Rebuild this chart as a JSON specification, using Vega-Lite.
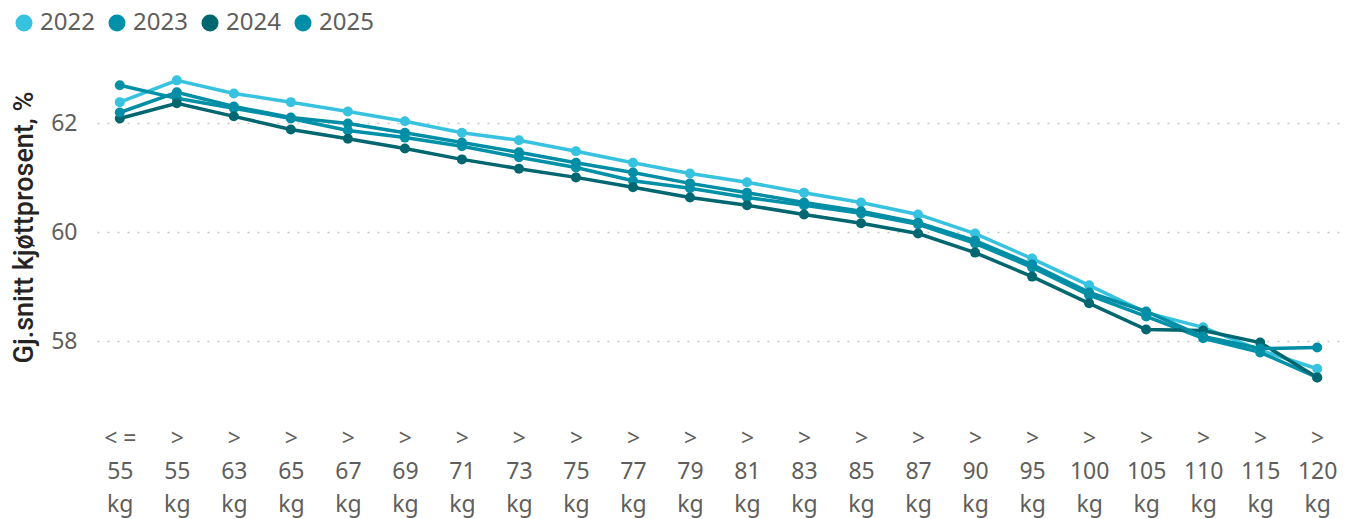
{
  "$schema": "https://vega.github.io/schema/vega-lite/v6.json",
  "autosize": {"type": "none"},
  "width": 1243,
  "height": 338,
  "padding": {"left": 97, "top": 58, "right": 5, "bottom": 123},
  "background": "white",
  "config": {
    "view": {"stroke": null},
    "font": "Noto Sans"
  },
  "data": {
    "values": [
      {"vekt": "<= 55 kg", "aar": "2022", "verdi": 62.39},
      {"vekt": "> 55 kg", "aar": "2022", "verdi": 62.79},
      {"vekt": "> 63 kg", "aar": "2022", "verdi": 62.55},
      {"vekt": "> 65 kg", "aar": "2022", "verdi": 62.39},
      {"vekt": "> 67 kg", "aar": "2022", "verdi": 62.22},
      {"vekt": "> 69 kg", "aar": "2022", "verdi": 62.04},
      {"vekt": "> 71 kg", "aar": "2022", "verdi": 61.83},
      {"vekt": "> 73 kg", "aar": "2022", "verdi": 61.69},
      {"vekt": "> 75 kg", "aar": "2022", "verdi": 61.49},
      {"vekt": "> 77 kg", "aar": "2022", "verdi": 61.28},
      {"vekt": "> 79 kg", "aar": "2022", "verdi": 61.08},
      {"vekt": "> 81 kg", "aar": "2022", "verdi": 60.92},
      {"vekt": "> 83 kg", "aar": "2022", "verdi": 60.73},
      {"vekt": "> 85 kg", "aar": "2022", "verdi": 60.55},
      {"vekt": "> 87 kg", "aar": "2022", "verdi": 60.33},
      {"vekt": "> 90 kg", "aar": "2022", "verdi": 59.98},
      {"vekt": "> 95 kg", "aar": "2022", "verdi": 59.52},
      {"vekt": "> 100 kg", "aar": "2022", "verdi": 59.03},
      {"vekt": "> 105 kg", "aar": "2022", "verdi": 58.53},
      {"vekt": "> 110 kg", "aar": "2022", "verdi": 58.26},
      {"vekt": "> 115 kg", "aar": "2022", "verdi": 57.84},
      {"vekt": "> 120 kg", "aar": "2022", "verdi": 57.5},

      {"vekt": "<= 55 kg", "aar": "2023", "verdi": 62.7},
      {"vekt": "> 55 kg", "aar": "2023", "verdi": 62.46},
      {"vekt": "> 63 kg", "aar": "2023", "verdi": 62.28},
      {"vekt": "> 65 kg", "aar": "2023", "verdi": 62.09},
      {"vekt": "> 67 kg", "aar": "2023", "verdi": 61.87},
      {"vekt": "> 69 kg", "aar": "2023", "verdi": 61.74},
      {"vekt": "> 71 kg", "aar": "2023", "verdi": 61.58},
      {"vekt": "> 73 kg", "aar": "2023", "verdi": 61.38},
      {"vekt": "> 75 kg", "aar": "2023", "verdi": 61.19},
      {"vekt": "> 77 kg", "aar": "2023", "verdi": 60.95},
      {"vekt": "> 79 kg", "aar": "2023", "verdi": 60.81},
      {"vekt": "> 81 kg", "aar": "2023", "verdi": 60.64},
      {"vekt": "> 83 kg", "aar": "2023", "verdi": 60.5},
      {"vekt": "> 85 kg", "aar": "2023", "verdi": 60.35},
      {"vekt": "> 87 kg", "aar": "2023", "verdi": 60.15},
      {"vekt": "> 90 kg", "aar": "2023", "verdi": 59.8},
      {"vekt": "> 95 kg", "aar": "2023", "verdi": 59.36},
      {"vekt": "> 100 kg", "aar": "2023", "verdi": 58.85},
      {"vekt": "> 105 kg", "aar": "2023", "verdi": 58.46},
      {"vekt": "> 110 kg", "aar": "2023", "verdi": 58.06},
      {"vekt": "> 115 kg", "aar": "2023", "verdi": 57.8},
      {"vekt": "> 120 kg", "aar": "2023", "verdi": 57.34},

      {"vekt": "<= 55 kg", "aar": "2024", "verdi": 62.09},
      {"vekt": "> 55 kg", "aar": "2024", "verdi": 62.37},
      {"vekt": "> 63 kg", "aar": "2024", "verdi": 62.13},
      {"vekt": "> 65 kg", "aar": "2024", "verdi": 61.89},
      {"vekt": "> 67 kg", "aar": "2024", "verdi": 61.72},
      {"vekt": "> 69 kg", "aar": "2024", "verdi": 61.54},
      {"vekt": "> 71 kg", "aar": "2024", "verdi": 61.34},
      {"vekt": "> 73 kg", "aar": "2024", "verdi": 61.17},
      {"vekt": "> 75 kg", "aar": "2024", "verdi": 61.01},
      {"vekt": "> 77 kg", "aar": "2024", "verdi": 60.83},
      {"vekt": "> 79 kg", "aar": "2024", "verdi": 60.64},
      {"vekt": "> 81 kg", "aar": "2024", "verdi": 60.5},
      {"vekt": "> 83 kg", "aar": "2024", "verdi": 60.33},
      {"vekt": "> 85 kg", "aar": "2024", "verdi": 60.17},
      {"vekt": "> 87 kg", "aar": "2024", "verdi": 59.98},
      {"vekt": "> 90 kg", "aar": "2024", "verdi": 59.63},
      {"vekt": "> 95 kg", "aar": "2024", "verdi": 59.19},
      {"vekt": "> 100 kg", "aar": "2024", "verdi": 58.7},
      {"vekt": "> 105 kg", "aar": "2024", "verdi": 58.22},
      {"vekt": "> 110 kg", "aar": "2024", "verdi": 58.2},
      {"vekt": "> 115 kg", "aar": "2024", "verdi": 57.98},
      {"vekt": "> 120 kg", "aar": "2024", "verdi": 57.34},

      {"vekt": "<= 55 kg", "aar": "2025", "verdi": 62.2},
      {"vekt": "> 55 kg", "aar": "2025", "verdi": 62.57},
      {"vekt": "> 63 kg", "aar": "2025", "verdi": 62.31},
      {"vekt": "> 65 kg", "aar": "2025", "verdi": 62.11},
      {"vekt": "> 67 kg", "aar": "2025", "verdi": 62.0},
      {"vekt": "> 69 kg", "aar": "2025", "verdi": 61.83},
      {"vekt": "> 71 kg", "aar": "2025", "verdi": 61.65},
      {"vekt": "> 73 kg", "aar": "2025", "verdi": 61.47},
      {"vekt": "> 75 kg", "aar": "2025", "verdi": 61.28},
      {"vekt": "> 77 kg", "aar": "2025", "verdi": 61.1},
      {"vekt": "> 79 kg", "aar": "2025", "verdi": 60.9},
      {"vekt": "> 81 kg", "aar": "2025", "verdi": 60.73},
      {"vekt": "> 83 kg", "aar": "2025", "verdi": 60.55},
      {"vekt": "> 85 kg", "aar": "2025", "verdi": 60.39},
      {"vekt": "> 87 kg", "aar": "2025", "verdi": 60.18},
      {"vekt": "> 90 kg", "aar": "2025", "verdi": 59.85},
      {"vekt": "> 95 kg", "aar": "2025", "verdi": 59.41},
      {"vekt": "> 100 kg", "aar": "2025", "verdi": 58.9},
      {"vekt": "> 105 kg", "aar": "2025", "verdi": 58.55},
      {"vekt": "> 110 kg", "aar": "2025", "verdi": 58.09},
      {"vekt": "> 115 kg", "aar": "2025", "verdi": 57.87},
      {"vekt": "> 120 kg", "aar": "2025", "verdi": 57.89}
    ]
  },
  "mark": {
    "type": "line",
    "strokeWidth": 3.5,
    "point": {"filled": true, "size": 100}
  },
  "encoding": {
    "x": {
      "field": "vekt",
      "type": "ordinal",
      "sort": null,
      "scale": {"type": "point", "padding": 0.4},
      "axis": {
        "title": null,
        "labelAngle": 0,
        "labelExpr": "split(replace(datum.label, '<=', '<\u00a0='), ' ')",
        "labelFont": "Noto Sans",
        "labelFontSize": 23,
        "labelColor": "#605E5C",
        "labelLineHeight": 33,
        "labelPadding": 31,
        "labelBaseline": "top",
        "domain": false,
        "ticks": false,
        "grid": false
      }
    },
    "y": {
      "field": "verdi",
      "type": "quantitative",
      "scale": {"domain": [57.0, 63.2], "nice": false, "zero": false},
      "axis": {
        "title": "Gj.snitt kjøttprosent, %",
        "titleFont": "Roboto",
        "titleFontWeight": 500,
        "titleFontSize": 27,
        "titleColor": "#252423",
        "titlePadding": 12,
        "values": [58, 60, 62],
        "labelFont": "Noto Sans",
        "labelFontSize": 23,
        "labelColor": "#605E5C",
        "labelPadding": 20,
        "domain": false,
        "ticks": false,
        "grid": true,
        "gridColor": "#C8C6C4",
        "gridDash": [2, 8],
        "gridWidth": 1.5
      }
    },
    "color": {
      "field": "aar",
      "type": "nominal",
      "scale": {
        "domain": ["2022", "2023", "2024", "2025"],
        "range": ["#37C3E0", "#0091A9", "#00666F", "#008DA6"]
      },
      "legend": {
        "title": null,
        "orient": "none",
        "direction": "horizontal",
        "legendX": -85,
        "legendY": -47,
        "symbolType": "circle",
        "symbolSize": 290,
        "symbolStrokeWidth": 0,
        "labelFont": "Noto Sans",
        "labelFontSize": 24,
        "labelColor": "#605E5C",
        "labelOffset": 4,
        "columnPadding": 10
      }
    }
  }
}
